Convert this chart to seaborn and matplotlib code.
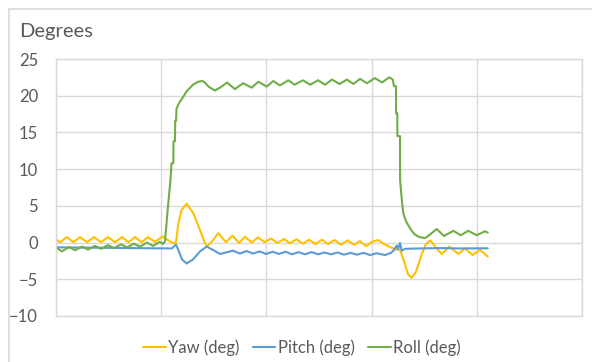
import pandas as pd
import seaborn as sns
import matplotlib.pyplot as plt
from matplotlib.lines import Line2D

# sample index (axis 0..500, gridline every 100) and readings in degrees
yaw_x = [0, 3.8, 10.2, 16.6, 22.8, 29.5, 36.1, 42.8, 49.4, 56.1, 62.7, 68.9, 75.1, 81.3,
         87.5, 94.1, 101.5, 108.4, 113.8, 116.3, 119.5, 124.2, 130.5, 136.9, 141.7, 143.3,
         148.0, 154.3, 161.6, 167.8, 174.0, 179.7, 186.0, 192.0, 198.2, 204.4, 210.6, 216.7,
         222.4, 228.6, 234.8, 240.5, 246.7, 252.9, 258.6, 264.7, 270.9, 277.1, 283.3, 289.0,
         294.7, 300.4, 306.1, 311.8, 317.5, 322.2, 327.0, 330.8, 334.6, 338.1, 342.2, 347.9,
         351.7, 356.0, 361.2, 366.6, 373.9, 382.4, 388.8, 396.1, 403.0, 410.4]
yaw = [0.45, 0.05, 0.75, 0.05, 0.75, 0.05, 0.75, 0.05, 0.75, 0.05, 0.75, 0.05, 0.75, 0.05,
       0.75, 0.1, 0.85, 0.15, -0.2, 2.6, 4.45, 5.3, 4.0, 1.7, -0.1, -0.55,
       0.1, 1.27, 0.05, 0.95, -0.05, 0.8, 0.0, 0.7, 0.05, 0.55, -0.05, 0.5,
       -0.1, 0.45, -0.15, 0.4, -0.2, 0.4, -0.2, 0.35, -0.3, 0.3, -0.3, 0.2,
       -0.5, 0.1, 0.35, -0.2, -0.6, -0.9, -1.0, -2.5, -4.3, -4.8, -4.0, -1.5,
       -0.2, 0.3, -0.7, -1.55, -0.55, -1.55, -0.8, -1.7, -1.0, -1.9]

pitch_x = [0, 32.3, 70.3, 110.3, 112.2, 114.1, 116.0, 119.8, 124.2, 130.2, 136.9, 143.3,
           149.2, 155.9, 168.3, 174.9, 181.1, 187.3, 193.4, 199.6, 205.8, 212.0, 218.2,
           224.3, 230.5, 236.7, 242.9, 249.1, 255.2, 261.4, 267.6, 273.8, 280.0, 286.1,
           292.3, 298.5, 304.7, 312.7, 318.5, 321.3, 323.9, 325.1, 327.0, 328.6, 331.8,
           346.0, 365.0, 384.0, 410.4]
pitch = [-0.65, -0.7, -0.75, -0.8, -0.5, -0.3, -0.9, -2.3, -2.85, -2.3, -1.2, -0.55,
         -1.0, -1.55, -1.1, -1.5, -1.15, -1.5, -1.2, -1.55, -1.25, -1.55, -1.25,
         -1.6, -1.3, -1.6, -1.3, -1.6, -1.35, -1.6, -1.35, -1.65, -1.4, -1.65,
         -1.4, -1.7, -1.45, -1.7, -1.4, -1.0, -0.4, -0.9, -0.05, -1.1, -0.85,
         -0.8, -0.75, -0.8, -0.78]

roll_x = [0, 5.7, 12.4, 18.1, 24.7, 30.4, 37.1, 42.8, 49.4, 55.1, 61.8, 67.5, 74.1, 79.8,
          86.5, 92.2, 98.8, 101.7, 103.6, 106.5, 108.8, 109.8, 111.5, 111.7, 113.1, 113.3,
          114.1, 114.5, 116.9, 119.8, 124.2, 130.2, 135.0, 138.8, 140.7, 145.4, 151.1,
          156.9, 162.6, 170.1, 177.8, 186.0, 192.3, 200.3, 206.6, 212.9, 220.8, 226.7,
          234.8, 241.5, 249.1, 255.7, 262.4, 269.5, 276.6, 282.8, 289.0, 295.6, 303.2,
          309.9, 316.8, 320.1, 321.3, 323.2, 323.3, 324.4, 324.5, 327.0, 327.1, 328.9,
          330.1, 332.7, 336.5, 340.3, 344.4, 350.8, 355.5, 361.9, 368.8, 377.7, 384.7,
          391.9, 399.9, 407.8, 410.4]
roll = [-0.7, -1.2, -0.6, -1.05, -0.55, -0.95, -0.45, -0.85, -0.35, -0.75, -0.25, -0.65, -0.15, -0.55,
        0.0, -0.45, 0.1, -0.2, 0.2, 5.0, 8.5, 10.8, 10.8, 13.8, 13.8, 16.6,
        16.6, 18.2, 19.0, 19.6, 20.6, 21.5, 21.9, 22.0, 21.9, 21.2, 20.7,
        21.2, 21.8, 20.9, 21.7, 21.1, 21.9, 21.25, 22.0, 21.4, 22.1, 21.5,
        22.1, 21.5, 22.1, 21.5, 22.2, 21.6, 22.2, 21.6, 22.3, 21.7, 22.4,
        21.8, 22.5, 22.2, 21.3, 21.3, 17.6, 17.6, 14.5, 14.5, 8.5, 5.5,
        4.0, 2.9, 1.95, 1.2, 0.8, 0.6, 1.1, 1.85, 0.9, 1.6, 1.0,
        1.6, 1.0, 1.55, 1.35]

series = ["Yaw (deg)", "Pitch (deg)", "Roll (deg)"]
colors = ["#FFC000", "#5B9BD5", "#70AD47"]

df = pd.concat([
    pd.DataFrame({"sample": yaw_x, "deg": yaw, "series": series[0]}),
    pd.DataFrame({"sample": pitch_x, "deg": pitch, "series": series[1]}),
    pd.DataFrame({"sample": roll_x, "deg": roll, "series": series[2]}),
])

sns.set_style("white")
plt.rcParams["font.family"] = ["Lato", "DejaVu Sans"]
txt = "#595959"
grid = "#D9D9D9"

fig = plt.figure(figsize=(5.92, 3.62), dpi=100)
ax = fig.add_axes([56 / 592, 1 - 316 / 362, 526 / 592, 257 / 362])

sns.lineplot(data=df, x="sample", y="deg", hue="series", palette=colors,
             estimator=None, sort=False, linewidth=1.5, ax=ax, legend=False)

ax.set_xlim(0, 500)
ax.set_ylim(-10, 25)
ax.set_xticks(range(0, 501, 100))
ax.set_yticks(range(-10, 26, 5))
ax.set_xticklabels([])
ax.tick_params(length=0, labelsize=12, colors=txt, pad=13)
ax.grid(True, color=grid, linewidth=1)
ax.set_axisbelow(True)
for s in ax.spines.values():
    s.set_color(grid)
    s.set_linewidth(1)
ax.set_xlabel("")
ax.set_ylabel("")

fig.text(19 / 592, 1 - 31 / 362, "Degrees", fontsize=14.5, color=txt, va="center", ha="left")

handles = [Line2D([], [], color=c, linewidth=1.5) for c in colors]
fig.legend(handles, series, loc="center", bbox_to_anchor=(302 / 592, 1 - 347.5 / 362),
           ncol=3, frameon=False, fontsize=12, handlelength=1.35, handletextpad=0.15,
           columnspacing=0.8, labelcolor=txt)

# chart border (cut at the right and bottom)
fig.add_artist(Line2D([8.5 / 592, 8.5 / 592], [0, 1 - 8.5 / 362], color=grid, linewidth=1.2))
fig.add_artist(Line2D([8.5 / 592, 1], [1 - 8.5 / 362, 1 - 8.5 / 362], color=grid, linewidth=1.2))

fig.savefig("out.png", dpi=100)
